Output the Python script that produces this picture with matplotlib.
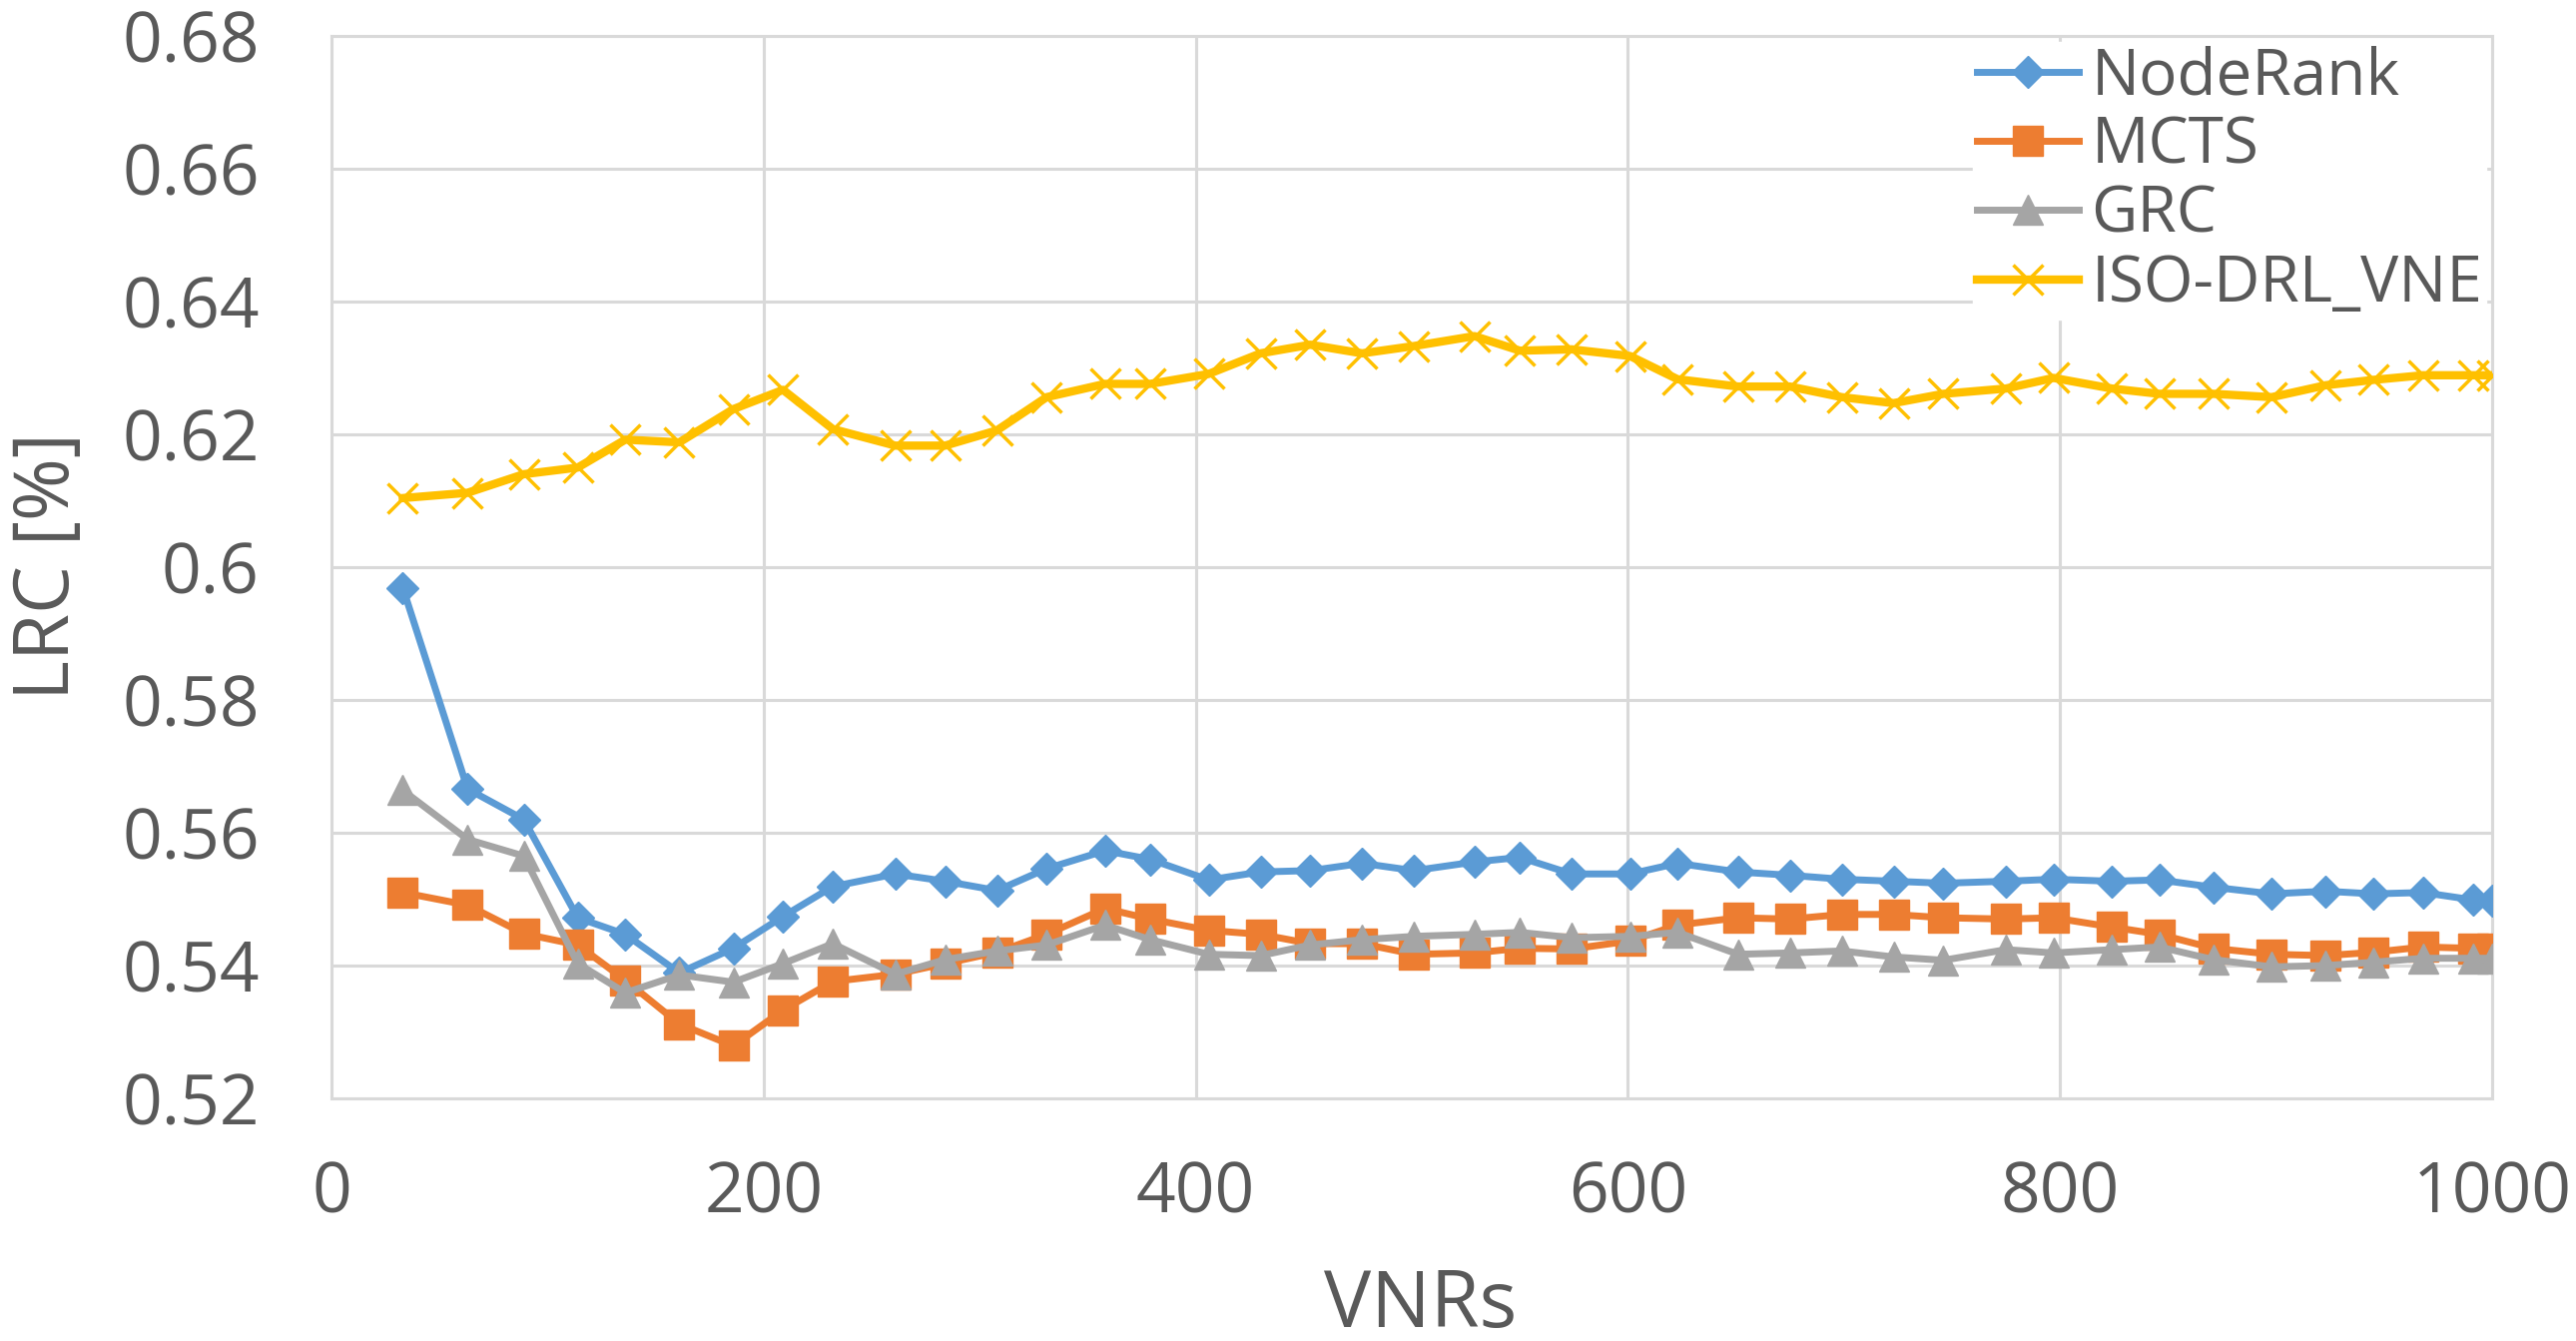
import numpy as np
import matplotlib
matplotlib.use('Agg')
import matplotlib.pyplot as plt

plt.rcParams['font.family'] = ['Open Sans', 'DejaVu Sans']

# VNR counts where the metric was sampled
vnrs = [33, 63, 89, 114, 136, 161, 186, 209, 232, 261, 284, 308, 331, 358,
        379, 406, 430, 453, 477, 501, 529, 550, 574, 601, 623, 651, 675, 699,
        723, 746, 775, 797, 824, 846, 871, 898, 923, 945, 968, 991, 1000]

noderank = [0.5969, 0.5666, 0.5620, 0.5472, 0.5447, 0.5389, 0.5426, 0.5474, 0.5519,
            0.5538, 0.5527, 0.5513, 0.5546, 0.5573, 0.5560, 0.5529, 0.5541, 0.5543,
            0.5554, 0.5543, 0.5556, 0.5563, 0.5538, 0.5538, 0.5554, 0.5541, 0.5536,
            0.5530, 0.5527, 0.5524, 0.5527, 0.5530, 0.5527, 0.5529, 0.5518, 0.5508,
            0.5512, 0.5508, 0.5510, 0.5499, 0.5497]

mcts = [0.5510, 0.5491, 0.5448, 0.5431, 0.5378, 0.5312, 0.5279, 0.5333, 0.5376,
        0.5387, 0.5403, 0.5420, 0.5447, 0.5486, 0.5470, 0.5453, 0.5447, 0.5433,
        0.5433, 0.5417, 0.5419, 0.5426, 0.5425, 0.5437, 0.5461, 0.5472, 0.5470,
        0.5477, 0.5477, 0.5472, 0.5470, 0.5472, 0.5458, 0.5447, 0.5426, 0.5417,
        0.5415, 0.5420, 0.5428, 0.5426, 0.5426]

grc = [0.5664, 0.5590, 0.5565, 0.5403, 0.5359, 0.5386, 0.5375, 0.5403, 0.5433,
       0.5387, 0.5409, 0.5422, 0.5431, 0.5461, 0.5439, 0.5417, 0.5415, 0.5431,
       0.5439, 0.5444, 0.5447, 0.5450, 0.5442, 0.5444, 0.5450, 0.5417, 0.5419,
       0.5422, 0.5413, 0.5408, 0.5424, 0.5419, 0.5424, 0.5428, 0.5409, 0.5398,
       0.5400, 0.5405, 0.5411, 0.5411, 0.5411]

iso_drl = [0.6104, 0.6112, 0.6140, 0.6150, 0.6192, 0.6188, 0.6238, 0.6267, 0.6208,
           0.6183, 0.6183, 0.6206, 0.6256, 0.6276, 0.6276, 0.6291, 0.6322, 0.6335,
           0.6322, 0.6333, 0.6348, 0.6326, 0.6328, 0.6318, 0.6283, 0.6272, 0.6272,
           0.6256, 0.6247, 0.6261, 0.6269, 0.6285, 0.6269, 0.6261, 0.6261, 0.6256,
           0.6274, 0.6282, 0.6289, 0.6289, 0.6289]

text_col = '#595959'
grid_col = '#D9D9D9'

fig = plt.figure(figsize=(25.8, 13.43), dpi=100)
ax = fig.add_axes([332/2580, 1-1100/1343, (2496-332)/2580, (1100-36)/1343])

ax.plot(vnrs, noderank, color='#5B9BD5', lw=5, marker='D', ms=16.5,
        label='NodeRank', zorder=3)
ax.plot(vnrs, mcts, color='#ED7D31', lw=5, marker='s', ms=21,
        label='MCTS', zorder=4)
ax.plot(vnrs, grc, color='#A5A5A5', lw=5, marker='^', ms=22,
        label='GRC', zorder=5)
ax.plot(vnrs, iso_drl, color='#FFC000', lw=6, marker='x', ms=22, mew=2.5,
        label='ISO-DRL_VNE', zorder=6)

ax.set_xlim(0, 1000)
ax.set_ylim(0.52, 0.68)
ax.set_xticks(np.arange(0, 1001, 200))
ax.set_yticks(np.arange(0.52, 0.681, 0.02))
ax.set_yticklabels(['0.52', '0.54', '0.56', '0.58', '0.6', '0.62', '0.64', '0.66', '0.68'])
ax.grid(True, color=grid_col, lw=2.2, zorder=0)
ax.set_axisbelow(True)
for s in ax.spines.values():
    s.set_color(grid_col)
    s.set_linewidth(2.2)
ax.tick_params(length=0, labelsize=50, labelcolor=text_col)
ax.tick_params(axis='y', pad=52)
ax.tick_params(axis='x', pad=44)

fig.text(49/2580, 1-345*1.645/1343, 'LRC [%]', rotation=90, ha='center', va='center',
         fontsize=55, color=text_col)
fig.text(1423/2580, 1-1308/1343, 'VNRs', ha='center', va='center',
         fontsize=57, color=text_col)

leg = ax.legend(loc='upper right', bbox_to_anchor=(1.0, 1.0), fontsize=46,
                frameon=True, facecolor='white', edgecolor='white', framealpha=1,
                handlelength=1.6, handletextpad=0.2, labelspacing=0.08,
                borderpad=0.05, borderaxespad=0.1, labelcolor=text_col)

fig.savefig('out.png', dpi=100)
